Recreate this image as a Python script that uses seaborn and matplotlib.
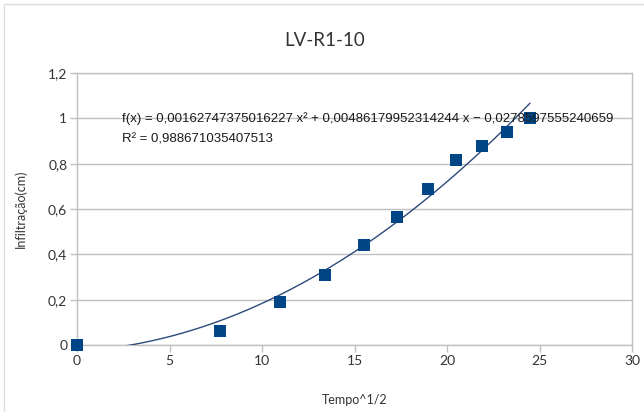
import numpy as np
import pandas as pd
import matplotlib
matplotlib.use("Agg")
import matplotlib.pyplot as plt
import seaborn as sns

# Data
tempo_sqrt = [0.0, 7.75, 10.95, 13.42, 15.49, 17.32, 18.97, 20.49, 21.91, 23.24, 24.49]
infiltracao = [0.0, 0.06, 0.19, 0.31, 0.44, 0.565, 0.69, 0.815, 0.88, 0.94, 1.0]

# Trend line coefficients (shown on the chart)
coef_a = 0.00162747375016227
coef_b = 0.00486179952314244
coef_c = -0.0278597555240659
r2_text = "R² = 0,988671035407513"
eq_text = "f(x) = 0,00162747375016227 x² + 0,00486179952314244 x − 0,0278597555240659"

x_ticks = [0, 5, 10, 15, 20, 25, 30]
y_ticks = [0, 0.2, 0.4, 0.6, 0.8, 1.0, 1.2]
y_tick_labels = ["0", "0,2", "0,4", "0,6", "0,8", "1", "1,2"]

sns.set_theme(style="white")
plt.rcParams['font.family'] = ['Lato', 'DejaVu Sans']

fig = plt.figure(figsize=(6.44, 4.12), dpi=100)
ax = fig.add_axes([77/644, 1-345/412, (632-77)/644, (345-73)/412])

df = pd.DataFrame({"x": tempo_sqrt, "y": infiltracao})
xs = np.linspace(min(tempo_sqrt), max(tempo_sqrt), 300)
trend = pd.DataFrame({"x": xs, "y": coef_a*xs**2 + coef_b*xs + coef_c})

sns.lineplot(data=trend, x="x", y="y", ax=ax, color="#2b4a7a", lw=1.0, zorder=4)
sns.scatterplot(data=df, x="x", y="y", ax=ax, marker="s", s=64, color="#004586",
                edgecolor="#004586", linewidth=0, zorder=5, clip_on=False)

ax.set_xlim(0, 30)
ax.set_ylim(0, 1.2)
ax.set_xticks(x_ticks)
ax.set_xticklabels([str(t) for t in x_ticks])
ax.set_yticks(y_ticks)
ax.set_yticklabels(y_tick_labels)

grid_c = "#c0c0c0"
ax.yaxis.grid(True, color=grid_c, lw=1.0)
ax.xaxis.grid(False)
for s in ax.spines.values():
    s.set_visible(True)
    s.set_color(grid_c)
    s.set_linewidth(1.0)
ax.tick_params(axis="both", which="major", length=5, width=1.0, color=grid_c,
               labelsize=10, labelcolor="#333333", pad=2, direction="out")
ax.tick_params(axis="x", bottom=True)
ax.tick_params(axis="y", left=True)

ax.set_xlabel("Tempo^1/2", fontsize=9, color="#333333", labelpad=20)
ax.set_ylabel("Infiltração(cm)", fontsize=9, color="#333333", labelpad=15)

fig.text(325/644, 1-40/412, "LV-R1-10", ha="center", va="center", fontsize=13.5, color="#333333")

fig.text(122/644, 1-119/412, eq_text, ha="left", va="center", fontsize=9.55,
         family=["Liberation Sans", "DejaVu Sans"], color="#1a1a1a", zorder=3)
fig.text(122/644, 1-139/412, r2_text, ha="left", va="center", fontsize=9.55,
         family=["Liberation Sans", "DejaVu Sans"], color="#1a1a1a", zorder=3)

# outer chart border (left and top)
fig.add_artist(plt.Line2D([4/644, 4/644], [0, 1-4/412], transform=fig.transFigure, color="#dddddd", lw=1))
fig.add_artist(plt.Line2D([4/644, 1], [1-4/412, 1-4/412], transform=fig.transFigure, color="#dddddd", lw=1))

fig.savefig("out.png", dpi=100)
